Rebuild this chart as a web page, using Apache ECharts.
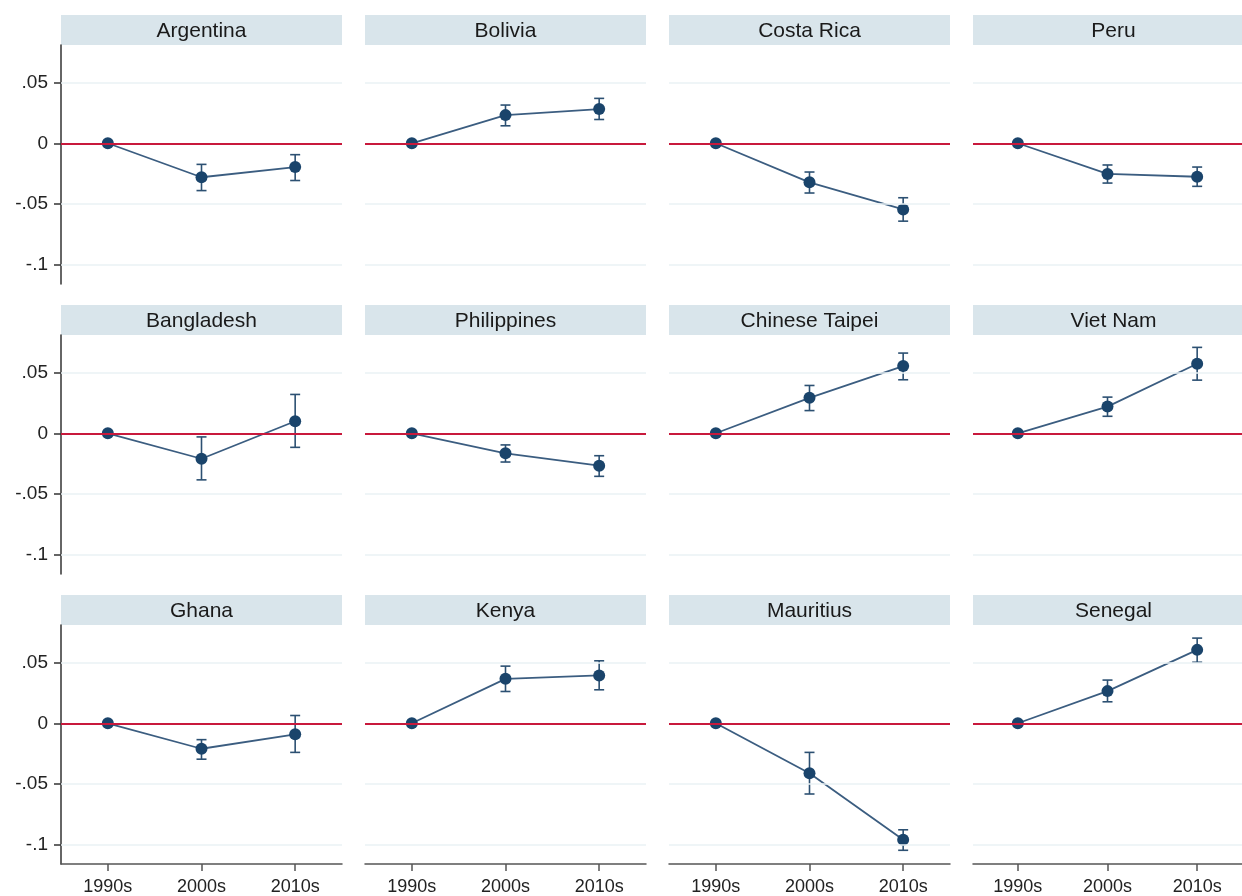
<!DOCTYPE html>
<html>
<head>
<meta charset="utf-8">
<script src="https://cdn.jsdelivr.net/npm/echarts@6/dist/echarts.min.js"></script>
<style>html,body{margin:0;padding:0;background:#fff;}#c{width:1242px;height:896px;}</style>
</head>
<body>
<div id="c"></div>
<script>
const decades = ['1990s', '2000s', '2010s'];
const countries = ['Argentina', 'Bolivia', 'Costa Rica', 'Peru', 'Bangladesh', 'Philippines', 'Chinese Taipei', 'Viet Nam', 'Ghana', 'Kenya', 'Mauritius', 'Senegal'];
const est = [
  [0, -0.0280, -0.0196], [0, 0.0232, 0.0282], [0, -0.0322, -0.0545], [0, -0.0253, -0.0276],
  [0, -0.0210, 0.0099], [0, -0.0165, -0.0267], [0, 0.0292, 0.0554], [0, 0.0220, 0.0573],
  [0, -0.0210, -0.0091], [0, 0.0366, 0.0394], [0, -0.0412, -0.0961], [0, 0.0265, 0.0605]
];
const ciLow = [
  [0, -0.0390, -0.0307], [0, 0.0144, 0.0196], [0, -0.0410, -0.0642], [0, -0.0328, -0.0355],
  [0, -0.0384, -0.0116], [0, -0.0237, -0.0355], [0, 0.0187, 0.0441], [0, 0.0140, 0.0438],
  [0, -0.0296, -0.0240], [0, 0.0262, 0.0276], [0, -0.0583, -0.1047], [0, 0.0177, 0.0503]
];
const ciHigh = [
  [0, -0.0174, -0.0094], [0, 0.0315, 0.0370], [0, -0.0237, -0.0449], [0, -0.0179, -0.0196],
  [0, -0.0030, 0.0320], [0, -0.0096, -0.0185], [0, 0.0394, 0.0661], [0, 0.0298, 0.0708],
  [0, -0.0135, 0.0064], [0, 0.0471, 0.0515], [0, -0.0240, -0.0878], [0, 0.0356, 0.0702]
];
const yTicks = [-0.1, -0.05, 0, 0.05];
const yTickLabels = ['-.1', '-.05', '0', '.05'];

const chart = echarts.init(document.getElementById('c'), null, {renderer: 'canvas'});
const FONT = '"Liberation Sans", Arial, sans-serif';
const nCols = 4;
const gridW = 281, gridH = 239, colStep = 304, rowStep = 290, left0 = 61, top0 = 45, headH = 30;

const grids = [], xAxes = [], yAxes = [], series = [], graphics = [];
countries.forEach((name, i) => {
  const r = Math.floor(i / nCols), c = i % nCols;
  const left = left0 + c * colStep, top = top0 + r * rowStep;
  grids.push({left: left, top: top, width: gridW, height: gridH, containLabel: false});
  const bottomRow = r === 2;
  const firstCol = c === 0;
  xAxes.push({
    type: 'category', gridIndex: i, data: decades, boundaryGap: true,
    show: true, position: 'bottom',
    axisLine: {show: bottomRow, onZero: false, lineStyle: {color: '#555', width: 1.5}},
    axisTick: {show: bottomRow, alignWithLabel: true, length: 7, lineStyle: {color: '#555', width: 1.5}},
    axisLabel: {show: bottomRow, color: '#222', fontSize: 18, fontFamily: FONT, margin: 14},
    splitLine: {show: false}
  });
  yAxes.push({
    type: 'value', gridIndex: i, min: -0.116, max: 0.081,
    axisLine: {show: firstCol, onZero: false, lineStyle: {color: '#333', width: 1.5}},
    axisTick: {show: firstCol, length: 7, customValues: yTicks, lineStyle: {color: '#333', width: 1.5}},
    axisLabel: {
      show: firstCol, customValues: yTicks, color: '#222', fontSize: 19, fontFamily: FONT, margin: 13,
      formatter: v => { const k = yTicks.findIndex(t => Math.abs(t - v) < 1e-9); return k >= 0 ? yTickLabels[k] : ''; }
    },
    splitLine: {show: false}
  });
  // gridlines + zero line
  series.push({
    type: 'line', xAxisIndex: i, yAxisIndex: i, data: [], z: 1, silent: true,
    markLine: {
      silent: true, symbol: ['none', 'none'], animation: false,
      label: {show: false},
      data: yTicks.map(v => v === 0
        ? {yAxis: v, lineStyle: {color: '#c8193c', width: 2, type: 'solid'}}
        : {yAxis: v, lineStyle: {color: '#eaf2f4', width: 1.5, type: 'solid'}})
    }
  });
  // error bars
  const ebData = decades.map((d, k) => [k, ciLow[i][k], ciHigh[i][k]]);
  series.push({
    type: 'custom', xAxisIndex: i, yAxisIndex: i, z: 3, silent: true,
    data: ebData,
    renderItem: (params, api) => {
      const lo = api.value(1), hi = api.value(2);
      if (lo === hi) return null;
      const p1 = api.coord([api.value(0), lo]);
      const p2 = api.coord([api.value(0), hi]);
      const hw = 5;
      const st = {stroke: '#2c5072', lineWidth: 1.6};
      return {type: 'group', children: [
        {type: 'line', shape: {x1: p1[0], y1: p1[1], x2: p2[0], y2: p2[1]}, style: st},
        {type: 'line', shape: {x1: p1[0] - hw, y1: p1[1], x2: p1[0] + hw, y2: p1[1]}, style: st},
        {type: 'line', shape: {x1: p2[0] - hw, y1: p2[1], x2: p2[0] + hw, y2: p2[1]}, style: st}
      ]};
    }
  });
  series.push({
    type: 'line', xAxisIndex: i, yAxisIndex: i, z: 4, data: est[i],
    symbol: 'circle', symbolSize: 12, showSymbol: true,
    lineStyle: {color: '#3b5d80', width: 1.8},
    itemStyle: {color: '#1a446b'},
    silent: true
  });
  graphics.push({
    type: 'rect', shape: {x: left, y: top - headH, width: gridW, height: headH},
    style: {fill: '#d9e5eb'}, silent: true, z: 0
  });
  graphics.push({
    type: 'text', x: left + gridW / 2, y: top - headH / 2 + 1, silent: true, z: 1,
    style: {text: name, textAlign: 'center', textVerticalAlign: 'middle', font: '21px ' + FONT, fill: '#1a1a1a'}
  });
});

chart.setOption({
  animation: false,
  backgroundColor: '#ffffff',
  grid: grids, xAxis: xAxes, yAxis: yAxes, series: series,
  graphic: {elements: graphics}
});
</script>
</body>
</html>
